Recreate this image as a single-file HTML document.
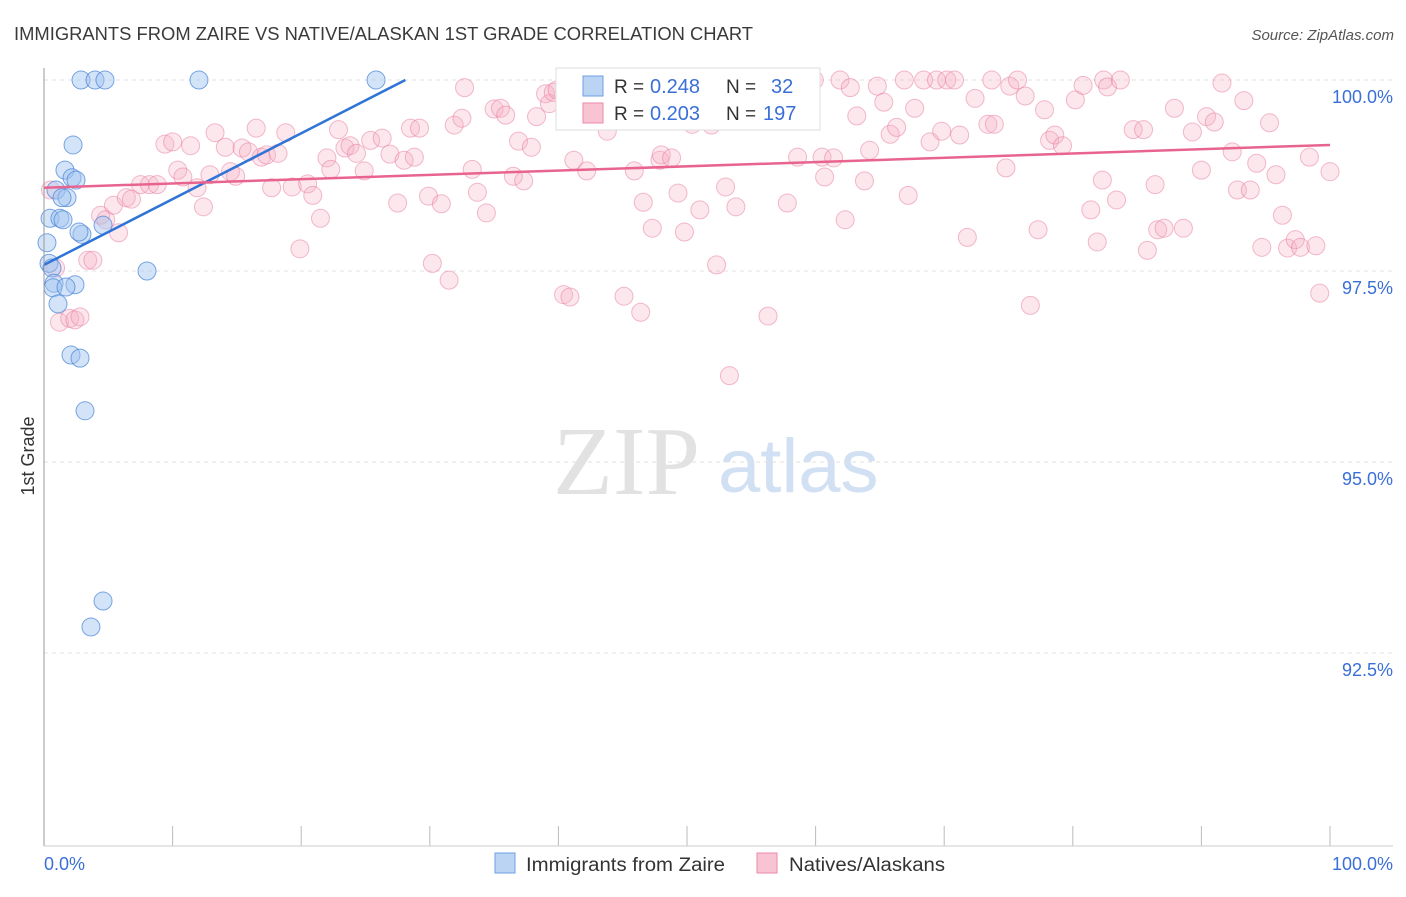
<!DOCTYPE html>
<html><head><meta charset="utf-8"><style>
body{margin:0;background:#fff;font-family:"Liberation Sans",sans-serif}
</style></head><body>
<svg id="c" width="1406" height="892" xmlns="http://www.w3.org/2000/svg">
<text x="14" y="40" font-size="18" fill="#3a3a3a" textLength="739" lengthAdjust="spacingAndGlyphs">IMMIGRANTS FROM ZAIRE VS NATIVE/ALASKAN 1ST GRADE CORRELATION CHART</text>
<text x="1394" y="40" font-size="15" fill="#555" font-style="italic" text-anchor="end">Source: ZipAtlas.com</text>
<g>
<text x="553" y="494" font-family="Liberation Serif,serif" font-size="98" fill="#e2e2e2">ZIP</text>
<text x="718" y="492" font-size="76" fill="#d2e0f4">atlas</text></g>
<g id="grid"></g><g id="pts"></g><g id="lines"></g>
<line x1="44" y1="68" x2="44" y2="846" stroke="#999"/>
<line x1="44" y1="846" x2="1393" y2="846" stroke="#ccc"/>
<text x="34" y="456" font-size="18" fill="#333" transform="rotate(-90 34 456)" text-anchor="middle">1st Grade</text>
<text x="44" y="870" font-size="18" fill="#3a6fd8">0.0%</text>
<text x="1393" y="870" font-size="18" fill="#3a6fd8" text-anchor="end">100.0%</text>
<g>
<rect x="556" y="68" width="264" height="62" fill="#fff" stroke="#ddd"/>
<rect x="583" y="76" width="20" height="20" fill="#bcd4f3" stroke="#6d9ee0"/>
<rect x="583" y="103" width="20" height="20" fill="#f8c4d3" stroke="#ea8aa8"/>
<text x="614" y="93" font-size="19" fill="#333">R =</text>
<text x="650" y="93" font-size="20" fill="#3a6fd8">0.248</text>
<text x="726" y="93" font-size="19" fill="#333">N =</text>
<text x="771" y="93" font-size="20" fill="#3a6fd8">32</text>
<text x="614" y="120" font-size="19" fill="#333">R =</text>
<text x="650" y="120" font-size="20" fill="#3a6fd8">0.203</text>
<text x="726" y="120" font-size="19" fill="#333">N =</text>
<text x="763" y="120" font-size="20" fill="#3a6fd8">197</text></g>
<g>
<rect x="495" y="853" width="20" height="20" fill="#bcd4f3" stroke="#6d9ee0"/>
<text x="526" y="871" font-size="19" fill="#333" textLength="199" lengthAdjust="spacingAndGlyphs">Immigrants from Zaire</text>
<rect x="757" y="853" width="20" height="20" fill="#f8c4d3" stroke="#ea8aa8"/>
<text x="789" y="871" font-size="19" fill="#333" textLength="156" lengthAdjust="spacingAndGlyphs">Natives/Alaskans</text></g>
</svg>
<script>
const yTicks=[100,97.5,95,92.5];
const yTickLabels=["100.0%","97.5%","95.0%","92.5%"];
const xTicks=[0,10,20,30,40,50,60,70,80,90,100];
const blueX=[2.88,3.97,4.74,12.05,25.82,2.26,1.63,2.18,2.49,0.93,1.79,1.40,0.47,1.24,1.48,2.95,2.72,4.59,0.23,0.39,0.62,8.01,0.78,0.70,2.41,1.71,1.09,2.10,2.80,3.19,4.59,3.65];
const blueY=[100,100,100,100,100,99.15,98.82,98.72,98.69,98.56,98.46,98.46,98.19,98.19,98.17,97.98,98.01,98.10,97.87,97.60,97.54,97.50,97.34,97.28,97.32,97.29,97.07,96.40,96.36,95.67,93.18,92.84];
const pinkX=[0.5,0.9,1.2,2.0,2.4,2.8,3.4,3.8,4.4,4.8,5.4,5.8,6.4,6.8,7.5,8.2,8.8,9.4,10.0,10.4,10.8,11.4,11.9,12.4,12.9,13.3,14.1,14.5,14.9,15.4,15.9,16.5,16.9,17.3,17.7,18.2,18.8,19.3,19.9,20.5,20.9,21.5,22.0,22.3,22.9,23.4,23.8,24.3,24.9,25.4,26.3,26.9,27.5,28.0,28.5,28.8,29.2,29.9,30.2,30.9,31.5,31.9,32.5,32.7,33.3,33.7,34.4,35.0,35.5,35.9,36.5,36.9,37.3,37.9,38.3,39.0,39.3,39.6,39.9,40.4,40.9,41.2,41.7,42.2,43.2,43.8,44.6,45.1,45.9,46.4,46.6,47.3,47.9,48.0,48.8,49.3,49.8,50.4,51.0,51.7,51.9,52.3,53.0,53.3,53.8,54.3,55.2,55.5,55.7,56.3,57.2,57.8,58.6,59.1,59.9,60.5,60.7,61.4,61.9,62.3,62.7,63.2,63.8,64.2,64.8,65.3,65.8,66.3,66.9,67.2,67.7,68.4,68.9,69.4,69.8,70.2,70.8,71.2,71.8,72.4,73.4,73.7,73.9,74.8,75.1,75.7,76.3,76.7,77.3,77.8,78.2,78.6,79.2,80.2,80.8,81.4,81.9,82.3,82.4,82.7,83.4,83.7,84.7,85.5,85.8,86.4,86.6,87.1,87.9,88.6,89.3,90.0,90.4,91.0,91.6,92.4,92.8,93.3,93.8,94.3,94.7,95.3,95.8,96.3,96.7,97.3,97.7,98.4,98.9,99.2,100];
const pinkY=[98.56,97.54,96.83,96.88,96.86,96.90,97.64,97.64,98.23,98.17,98.36,98.00,98.46,98.44,98.63,98.63,98.63,99.16,99.19,98.82,98.73,99.14,98.59,98.34,98.76,99.31,99.12,98.80,98.74,99.11,99.06,99.37,98.99,99.02,98.59,99.04,99.31,98.60,97.79,98.64,98.49,98.19,98.98,98.83,99.35,99.11,99.14,99.04,98.81,99.21,99.24,99.03,98.39,98.95,99.37,98.99,99.37,98.48,97.60,98.38,97.38,99.41,99.50,99.90,98.83,98.53,98.26,99.62,99.63,99.54,98.74,99.20,98.68,99.12,99.52,99.82,99.69,99.84,99.87,97.19,97.16,98.95,100,98.81,99.92,99.33,100,97.17,98.81,96.96,98.40,98.06,98.95,99.02,98.98,98.52,98.01,99.42,98.30,100,99.41,97.58,98.60,96.13,98.34,100,99.57,100,99.55,96.91,100,98.39,98.99,100,100,98.99,98.73,98.98,100,98.17,99.90,99.53,98.68,99.08,99.92,99.71,99.29,99.38,100,98.49,99.63,100,99.19,100,99.33,100,100,99.28,97.94,99.76,99.42,100,99.42,98.85,99.92,100,99.79,97.05,98.04,99.61,99.21,99.28,99.14,99.74,99.93,98.30,97.88,98.69,100,99.91,98.43,100,99.35,99.35,97.77,98.63,98.04,98.06,99.63,98.06,99.32,98.82,99.52,99.45,99.96,99.06,98.56,99.73,98.56,98.91,97.81,99.44,98.76,98.23,97.80,97.91,97.81,98.99,97.83,97.21,98.80];
const blueTrend=[[0,97.58],[28.1,100]];
const pinkTrend=[[0,98.59],[100,99.15]];
const NS="http://www.w3.org/2000/svg";
const sx=v=>44+v*12.86, sy=v=>80+(100-v)*76.4;
function mk(t,a,p){const e=document.createElementNS(NS,t);for(const k in a)e.setAttribute(k,a[k]);p.appendChild(e);return e;}
const grid=document.getElementById('grid');
yTicks.forEach((t,i)=>{
 const l=mk('line',{x1:44,x2:1393,y1:sy(t),y2:sy(t),stroke:'#e0e0e0','stroke-dasharray':'4,4'},grid);
 
 
 const tx=mk('text',{x:1393,y:sy(t)+23,'font-size':18,fill:'#3a6fd8','text-anchor':'end'},grid);
 tx.textContent=yTickLabels[i];
 
 
});
xTicks.forEach(t=>{
 const l=mk('line',{x1:sx(t),x2:sx(t),y1:826,y2:846,stroke:'#bbb'},grid);
 
 
});
const pts=document.getElementById('pts');
pinkX.forEach((x,i)=>{
 const c=mk('circle',{cx:sx(x),cy:sy(pinkY[i]),r:9,fill:'rgba(246,175,197,0.3)',stroke:'rgba(232,120,158,0.5)','stroke-width':1},pts);
 
 
});
blueX.forEach((x,i)=>{
 const c=mk('circle',{cx:sx(x),cy:sy(blueY[i]),r:9,fill:'rgba(160,196,240,0.45)',stroke:'rgba(70,130,215,0.7)','stroke-width':1},pts);
 
 
});
const lines=document.getElementById('lines');
const bl=mk('line',{x1:sx(blueTrend[0][0]),y1:sy(blueTrend[0][1]),x2:sx(blueTrend[1][0]),y2:sy(blueTrend[1][1]),stroke:'#2f74d6','stroke-width':2.5},lines);


const pl=mk('line',{x1:sx(pinkTrend[0][0]),y1:sy(pinkTrend[0][1]),x2:sx(pinkTrend[1][0]),y2:sy(pinkTrend[1][1]),stroke:'#e8648f','stroke-width':2.5},lines);


</script>
</body></html>
